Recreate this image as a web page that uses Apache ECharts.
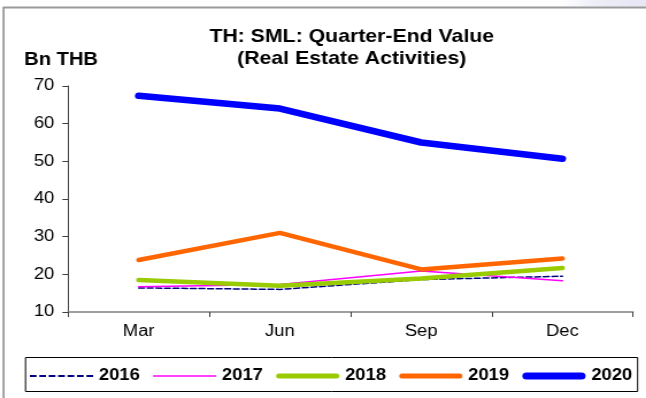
<!DOCTYPE html>
<html>
<head>
<meta charset="utf-8">
<script src="https://cdn.jsdelivr.net/npm/echarts@6/dist/echarts.min.js"></script>
<style>
  html, body { margin: 0; padding: 0; background: #fff; overflow: hidden; }
  /* The chart is laid out on a narrower canvas and widened horizontally,
     which gives the broad, stretched lettering of the original slide. */
  #chart { width: 562px; height: 398px; transform: scaleX(1.1495); transform-origin: 0 0; }
</style>
</head>
<body>
<div id="chart"></div>
<script>
// Quarter-end outstanding value, real estate activities (Bn THB)
const quarters = ['Mar', 'Jun', 'Sep', 'Dec'];
const years = ['2016', '2017', '2018', '2019', '2020'];
const v2016 = [16.4, 16.0, 18.6, 19.5];
const v2017 = [16.7, 17.3, 20.9, 18.3];
const v2018 = [18.5, 17.0, 18.9, 21.7];
const v2019 = [23.8, 31.0, 21.3, 24.2];
const v2020 = [67.4, 64.0, 55.0, 50.7];
const yTicks = [10, 20, 30, 40, 50, 60, 70];

const FONT = '"Liberation Sans", Arial, sans-serif';

const lineStyles = [
  { color: '#000080', width: 1.5, type: [5, 2.5] },
  { color: '#FF00FF', width: 1.5, type: 'solid' },
  { color: '#99CC00', width: 4.5, type: 'solid' },
  { color: '#FF6600', width: 4.5, type: 'solid' },
  { color: '#0000FF', width: 6.5, type: 'solid' }
];
const seriesValues = [v2016, v2017, v2018, v2019, v2020];

// legend keys: short line samples drawn as paths
function dashKey(w, h, dash, gap) {
  let d = '';
  for (let x = 0; x < w - 0.01; x += dash + gap) {
    const e = Math.min(x + dash, w);
    d += 'M' + x + ',0H' + e + 'V' + h + 'H' + x + 'Z';
  }
  return 'path://' + d;
}
function barKey(w, h) {
  return 'path://M0,0H' + w + 'V' + h + 'H0Z';
}
function roundKey(w, h) {
  const r = h / 2;
  return 'path://M' + r + ',0H' + (w - r) + 'A' + r + ',' + r + ' 0 0 1 ' + (w - r) + ',' + h +
    'H' + r + 'A' + r + ',' + r + ' 0 0 1 ' + r + ',0Z';
}
const KEY_W = 55;
const legendIcons = [
  dashKey(KEY_W, 2, 5.8, 2.4),
  barKey(KEY_W, 1.6),
  roundKey(KEY_W, 5),
  roundKey(KEY_W, 5),
  roundKey(KEY_W, 7)
];

const chart = echarts.init(document.getElementById('chart'), null, { renderer: 'canvas' });

chart.setOption({
  animation: false,
  backgroundColor: '#ffffff',
  textStyle: { fontFamily: FONT },
  title: {
    text: 'TH: SML: Quarter-End Value\n(Real Estate Activities)',
    left: 301,
    textAlign: 'center',
    top: 21,
    textStyle: { fontFamily: FONT, fontWeight: 'bold', fontSize: 18.5, lineHeight: 22, color: '#000' }
  },
  graphic: [
    { type: 'rect', shape: { x: 487, y: 0, width: 75, height: 7 },
      style: { fill: new echarts.graphic.LinearGradient(0, 0, 1, 0, [
        { offset: 0, color: '#ffffff' }, { offset: 0.4, color: '#eeeef8' }, { offset: 1, color: '#e6e6f4' }]) } },
    { type: 'line', shape: { x1: 2.6, y1: 7.5, x2: 562, y2: 7.5 }, style: { stroke: '#9a9a9a', lineWidth: 2 } },
    { type: 'line', shape: { x1: 3.1, y1: 7, x2: 3.1, y2: 398 }, style: { stroke: '#9a9a9a', lineWidth: 1.8 } },
    { type: 'text', left: 21, top: 51, style: { text: 'Bn THB', fontFamily: FONT, fontWeight: 'bold', fontSize: 17.5, fill: '#000' } },
    { type: 'rect', shape: { x: 22.2, y: 357.5, width: 532.5, height: 34 }, style: { fill: 'none', stroke: '#000', lineWidth: 1 }, z: 1 }
  ],
  legend: {
    data: years.map((y, i) => ({ name: y, icon: legendIcons[i] })),
    left: 21,
    top: 363,
    itemWidth: KEY_W,
    itemHeight: 12,
    itemGap: 11.5,
    textStyle: { fontFamily: FONT, fontWeight: 'bold', fontSize: 16, color: '#000' }
  },
  grid: { left: 59.2, right: 11.3, top: 86, bottom: 86, containLabel: false },
  xAxis: {
    type: 'category',
    data: quarters,
    boundaryGap: true,
    axisLine: { lineStyle: { color: '#808080', width: 1.5 } },
    axisTick: { show: true, inside: false, length: 5, interval: 0, lineStyle: { color: '#404040' } },
    axisLabel: { fontFamily: FONT, fontSize: 16, color: '#000', margin: 12 }
  },
  yAxis: {
    type: 'value',
    min: yTicks[0],
    max: yTicks[yTicks.length - 1],
    interval: 10,
    axisLine: { show: true, lineStyle: { color: '#404040', width: 1 } },
    axisTick: { show: true, inside: false, length: 5, lineStyle: { color: '#404040' } },
    axisLabel: { fontFamily: FONT, fontSize: 16, color: '#000', margin: 12 },
    splitLine: { show: false }
  },
  series: years.map((name, i) => ({
    name: name,
    type: 'line',
    data: seriesValues[i],
    symbol: 'none',
    smooth: false,
    lineStyle: Object.assign({ cap: 'round', join: 'round' }, lineStyles[i]),
    itemStyle: { color: lineStyles[i].color },
    z: 2 + i
  }))
});
</script>
</body>
</html>
